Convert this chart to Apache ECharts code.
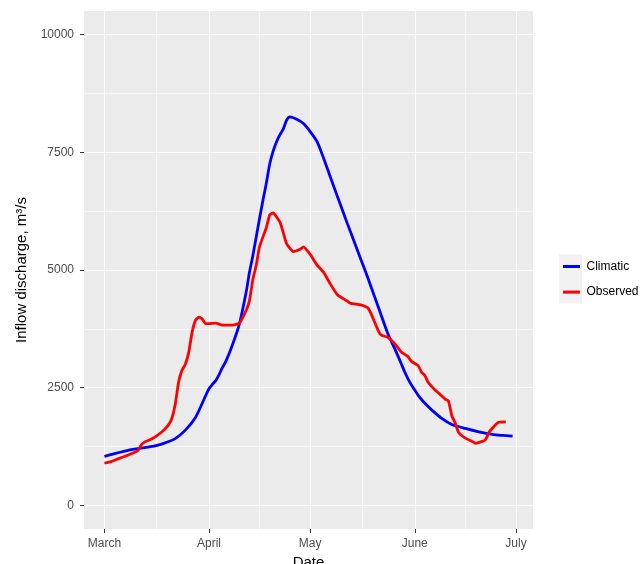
<!DOCTYPE html>
<html>
<head>
<meta charset="utf-8">
<script src="https://cdn.jsdelivr.net/npm/echarts@6/dist/echarts.min.js"></script>
<style>
  html, body { margin: 0; padding: 0; background: #ffffff; overflow: hidden; }
  #chart { width: 641px; height: 564px; }
</style>
</head>
<body>
<div id="chart"></div>
<script>
// Days counted from 1 March
const monthTicks = [0, 31, 61, 92, 122];
const monthLabels = ['March', 'April', 'May', 'June', 'July'];
const minorDays = [15.5, 46, 76.5, 107];
const yTicks = [0, 2500, 5000, 7500, 10000];
const yMinor = [1250, 3750, 6250, 8750];

// Climatic (mean) inflow, m3/s
const climaticDays = [0, 3, 7, 12, 15, 18, 21, 24, 27, 29, 30, 31, 32, 33, 34, 35, 36, 38, 40, 42, 43, 44, 46, 47, 48, 49, 50, 51, 52, 53, 54, 55, 57, 59, 61, 63, 65, 67, 70, 72, 74, 76, 78, 80, 82, 84, 86, 88, 89, 90, 91, 92, 93, 94, 95, 97, 100, 103, 107, 111, 115, 118, 121];
const climaticValues = [1040, 1100, 1170, 1230, 1265, 1330, 1420, 1600, 1870, 2170, 2330, 2480, 2570, 2650, 2780, 2930, 3060, 3420, 3850, 4520, 4950, 5300, 6100, 6480, 6840, 7250, 7520, 7720, 7870, 7990, 8180, 8250, 8200, 8110, 7940, 7730, 7370, 6970, 6380, 5990, 5610, 5230, 4850, 4450, 4050, 3650, 3340, 3010, 2840, 2690, 2560, 2450, 2340, 2250, 2170, 2030, 1850, 1720, 1635, 1563, 1507, 1486, 1471];

// Observed inflow, m3/s
const observedDays = [0, 2, 4, 7, 9, 10, 11, 12, 14, 17, 19, 20, 21, 22, 23, 24, 25, 26, 27, 28, 29, 30, 31, 33, 35, 38, 40, 42, 43, 44, 45, 46, 48, 49, 50, 52, 53, 54, 56, 58, 59, 61, 63, 65, 67, 69, 71, 72, 73, 76, 78, 79, 81, 82, 84, 86, 88, 90, 91, 93, 94, 95, 96, 98, 99, 101, 102, 103, 104, 105, 107, 109, 110, 112, 113, 114, 115, 116, 117, 119];
const observedValues = [900, 930, 990, 1070, 1130, 1170, 1290, 1350, 1410, 1560, 1710, 1850, 2150, 2620, 2870, 3000, 3250, 3680, 3930, 4000, 3960, 3860, 3860, 3870, 3830, 3830, 3870, 4140, 4350, 4800, 5100, 5500, 5900, 6170, 6210, 6020, 5800, 5560, 5390, 5440, 5490, 5330, 5110, 4950, 4700, 4480, 4380, 4340, 4290, 4260, 4200, 4080, 3740, 3620, 3570, 3440, 3260, 3160, 3060, 2970, 2830, 2760, 2610, 2450, 2390, 2260, 2220, 1900, 1750, 1550, 1430, 1360, 1320, 1360, 1400, 1550, 1640, 1720, 1770, 1775];

const pairs = (xs, ys) => xs.map((x, i) => [x, ys[i]]);

const FONT = 'Liberation Sans, Arial, sans-serif';
const major = { color: '#ffffff', width: 1.1, type: 'solid' };
const minor = { color: '#ffffff', width: 0.55, type: 'solid' };

const gridLines = []
  .concat(minorDays.map(v => ({ xAxis: v, lineStyle: minor })))
  .concat(yMinor.map(v => ({ yAxis: v, lineStyle: minor })))
  .concat(monthTicks.map(v => ({ xAxis: v, lineStyle: major })))
  .concat(yTicks.map(v => ({ yAxis: v, lineStyle: major })));

const chart = echarts.init(document.getElementById('chart'), null, { renderer: 'canvas' });

// Invisible axis line; ticks and labels stay visible
const hiddenAxisLine = { show: true, onZero: false, lineStyle: { color: 'rgba(0,0,0,0)' } };

chart.setOption({
  animation: false,
  textStyle: { fontFamily: FONT },
  grid: {
    left: 84, right: 108, top: 11, bottom: 35,
    outerBoundsMode: 'none',
    containLabel: false,
    show: true, backgroundColor: '#EBEBEB', borderWidth: 0
  },
  graphic: [{
    type: 'rect', z: 0, silent: true,
    shape: { x: 559, y: 254.5, width: 23, height: 49 },
    style: { fill: '#F2F2F2' }
  }],
  legend: {
    data: ['Climatic', 'Observed'],
    orient: 'vertical',
    left: 563, top: 255,
    padding: 0,
    icon: 'rect',
    itemWidth: 17, itemHeight: 3, itemGap: 2.6,
    textStyle: { fontSize: 12, color: '#000000', lineHeight: 23, fontFamily: FONT, padding: [0, 0, 0, 1.5] }
  },
  xAxis: {
    type: 'value',
    min: -6.05, max: 127.05,
    name: 'Date',
    nameLocation: 'middle',
    nameGap: 22,
    nameTextStyle: { fontSize: 15, color: '#000000', fontFamily: FONT },
    axisLine: hiddenAxisLine,
    splitLine: { show: false },
    axisTick: { show: true, customValues: monthTicks, length: 4, lineStyle: { color: '#333333', width: 1 } },
    axisLabel: {
      customValues: monthTicks,
      formatter: v => monthLabels[monthTicks.indexOf(v)],
      fontSize: 12, color: '#4D4D4D', margin: 9, fontFamily: FONT
    }
  },
  yAxis: {
    type: 'value',
    min: -500, max: 10500,
    name: 'Inflow discharge, m³/s',
    nameLocation: 'middle',
    nameGap: 52,
    nameTextStyle: { fontSize: 15, color: '#000000', fontFamily: FONT },
    axisLine: hiddenAxisLine,
    splitLine: { show: false },
    axisTick: { show: true, customValues: yTicks, length: 4, lineStyle: { color: '#333333', width: 1 } },
    axisLabel: {
      customValues: yTicks,
      formatter: v => String(v),
      fontSize: 12, color: '#4D4D4D', margin: 10, fontFamily: FONT
    }
  },
  series: [
    {
      name: 'gridlines',
      type: 'line',
      data: [],
      z: 1,
      silent: true,
      markLine: {
        z: 1,
        silent: true,
        symbol: ['none', 'none'],
        label: { show: false },
        emphasis: { disabled: true },
        animation: false,
        data: gridLines
      }
    },
    {
      name: 'Climatic',
      type: 'line',
      z: 3,
      data: pairs(climaticDays, climaticValues),
      showSymbol: false,
      smooth: 0.25,
      lineStyle: { color: '#0000FF', width: 2.8 },
      itemStyle: { color: '#0000FF' }
    },
    {
      name: 'Observed',
      type: 'line',
      z: 3,
      data: pairs(observedDays, observedValues),
      showSymbol: false,
      smooth: 0.15,
      lineStyle: { color: '#FF0000', width: 2.8 },
      itemStyle: { color: '#FF0000' }
    }
  ]
});
</script>
</body>
</html>
